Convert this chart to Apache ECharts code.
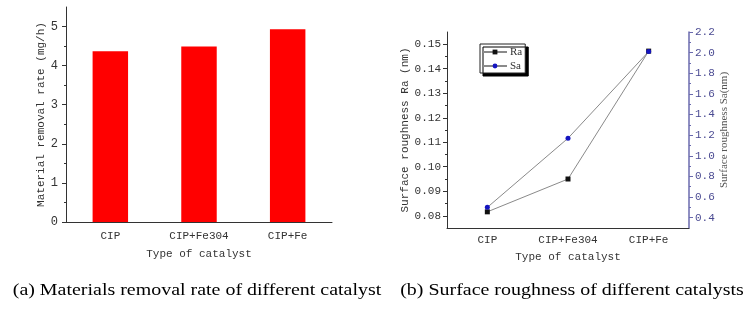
<!DOCTYPE html>
<html>
<head>
<meta charset="utf-8">
<script src="https://cdn.jsdelivr.net/npm/echarts@6/dist/echarts.min.js"></script>
<style>html,body{margin:0;padding:0;background:#fff}#c{width:756px;height:310px}</style>
</head>
<body>
<div id="c"></div>
<script>
// ---- data ----
const categories = ['CIP', 'CIP+Fe304', 'CIP+Fe'];
const removalRate = [4.37, 4.49, 4.93];
const raValues = [0.0816, 0.0950, 0.1472];
const saValues = [0.50, 1.17, 2.01];
const rateTicks = [0, 1, 2, 3, 4, 5];
const rateMinorTicks = [0.5, 1.5, 2.5, 3.5, 4.5];
const raTicks = [0.08, 0.09, 0.10, 0.11, 0.12, 0.13, 0.14, 0.15];
const raMinorTicks = [0.085, 0.095, 0.105, 0.115, 0.125, 0.135, 0.145];
const saTicks = [0.4, 0.6, 0.8, 1.0, 1.2, 1.4, 1.6, 1.8, 2.0, 2.2];
const saMinorTicks = [0.5, 0.7, 0.9, 1.1, 1.3, 1.5, 1.7, 1.9, 2.1];
const captionA = '(a) Materials removal rate of different catalyst';
const captionB = '(b) Surface roughness of different catalysts';

const mono = 'Liberation Mono';
const axisCol = '#333';
const blueAxis = '#6a6aae';

const chart = echarts.init(document.getElementById('c'), null, {renderer: 'canvas'});
chart.setOption({
  animation: false,
  backgroundColor: '#fff',
  grid: [
    {left: 66, top: 7, width: 266, height: 215},
    {left: 447, top: 32, width: 242, height: 196}
  ],
  legend: {
    data: ['Ra', 'Sa'],
    orient: 'vertical',
    left: 480, top: 44,
    padding: [2, 3, 1, 2],
    itemWidth: 24, itemHeight: 6, itemGap: 2,
    backgroundColor: '#fff',
    borderColor: '#222', borderWidth: 1,
    shadowColor: '#000', shadowBlur: 0, shadowOffsetX: 3, shadowOffsetY: 3,
    textStyle: {fontFamily: 'Liberation Serif', fontSize: 11, color: '#333', lineHeight: 12, padding: [0, 0, 0, -2]}
  },
  xAxis: [
    {
      type: 'category', gridIndex: 0, data: categories, position: 'bottom',
      axisLine: {lineStyle: {color: axisCol}},
      axisTick: {alignWithLabel: true, length: 4, lineStyle: {color: axisCol}},
      axisLabel: {fontFamily: mono, fontSize: 11, color: '#333', margin: 9},
      name: 'Type of catalyst', nameLocation: 'middle', nameGap: 27,
      nameTextStyle: {fontFamily: mono, fontSize: 11, color: '#333'}
    },
    {
      type: 'category', gridIndex: 0, data: categories, position: 'bottom',
      axisLine: {show: false},
      axisTick: {length: 2, lineStyle: {color: axisCol}},
      axisLabel: {show: false}
    },
    {
      type: 'category', gridIndex: 1, data: categories, position: 'bottom',
      axisLine: {lineStyle: {color: axisCol}},
      axisTick: {alignWithLabel: true, length: 4, lineStyle: {color: axisCol}},
      axisLabel: {fontFamily: mono, fontSize: 11, color: '#333', margin: 7},
      name: 'Type of catalyst', nameLocation: 'middle', nameGap: 24,
      nameTextStyle: {fontFamily: mono, fontSize: 11, color: '#333'}
    }
  ],
  yAxis: [
    {
      type: 'value', gridIndex: 0, min: 0, max: 5.5, position: 'left',
      axisLine: {show: true, lineStyle: {color: axisCol}},
      axisTick: {show: true, length: 4, customValues: rateTicks, lineStyle: {color: axisCol}},
      axisLabel: {customValues: rateTicks, fontFamily: mono, fontSize: 12, color: '#333', margin: 8},
      splitLine: {show: false},
      name: 'Material removal rate (mg/h)', nameLocation: 'middle', nameGap: 19, nameRotate: 90,
      nameTextStyle: {fontFamily: mono, fontSize: 11, color: '#333'}
    },
    {
      type: 'value', gridIndex: 0, min: 0, max: 5.5, position: 'left',
      axisLine: {show: false},
      axisTick: {show: true, length: 2, customValues: rateMinorTicks, lineStyle: {color: axisCol}},
      axisLabel: {show: false},
      splitLine: {show: false}
    },
    {
      type: 'value', gridIndex: 1, min: 0.075, max: 0.155, position: 'left',
      axisLine: {show: true, lineStyle: {color: axisCol}},
      axisTick: {show: true, length: 4, customValues: raTicks, lineStyle: {color: axisCol}},
      axisLabel: {customValues: raTicks, formatter: v => v.toFixed(2), fontFamily: mono, fontSize: 11, color: '#333', margin: 6},
      splitLine: {show: false},
      name: 'Surface roughness Ra (nm)', nameLocation: 'middle', nameGap: 34, nameRotate: 90,
      nameTextStyle: {fontFamily: mono, fontSize: 11, color: '#333'}
    },
    {
      type: 'value', gridIndex: 1, min: 0.3, max: 2.2, position: 'right',
      axisLine: {show: true, lineStyle: {color: blueAxis, width: 1.5}},
      axisTick: {show: true, length: 4, customValues: saTicks, lineStyle: {color: blueAxis}},
      axisLabel: {customValues: saTicks, formatter: v => v.toFixed(1), fontFamily: mono, fontSize: 11, color: '#4a4a92', margin: 6},
      splitLine: {show: false},
      name: 'Surface roughness Sa(nm)', nameLocation: 'middle', nameGap: 26, nameRotate: 90,
      nameTextStyle: {fontFamily: 'Liberation Serif', fontSize: 11, color: '#555'}
    },
    {
      type: 'value', gridIndex: 1, min: 0.075, max: 0.155, position: 'left',
      axisLine: {show: false},
      axisTick: {show: true, length: 2, customValues: raMinorTicks, lineStyle: {color: axisCol}},
      axisLabel: {show: false},
      splitLine: {show: false}
    },
    {
      type: 'value', gridIndex: 1, min: 0.3, max: 2.2, position: 'right',
      axisLine: {show: false},
      axisTick: {show: true, length: 2, customValues: saMinorTicks, lineStyle: {color: blueAxis}},
      axisLabel: {show: false},
      splitLine: {show: false}
    }
  ],
  series: [
    {
      type: 'bar', xAxisIndex: 0, yAxisIndex: 0, data: removalRate,
      barWidth: '40%', itemStyle: {color: '#ff0000'}
    },
    {
      name: 'Ra', type: 'line', xAxisIndex: 2, yAxisIndex: 2, data: raValues,
      symbol: 'rect', symbolSize: 5,
      lineStyle: {color: '#8a8a8a', width: 1},
      itemStyle: {color: '#111'}
    },
    {
      name: 'Sa', type: 'line', xAxisIndex: 2, yAxisIndex: 3, data: saValues,
      symbol: 'circle', symbolSize: 5,
      lineStyle: {color: '#8a8a8a', width: 1},
      itemStyle: {color: '#1515c0'}
    }
  ],
  graphic: [
    {type: 'text', x: 197, y: 290, scaleX: 1.14, style: {text: captionA, textAlign: 'center', textVerticalAlign: 'middle', font: '17.5px "Liberation Serif"', fill: '#000'}},
    {type: 'text', x: 572, y: 290, scaleX: 1.14, style: {text: captionB, textAlign: 'center', textVerticalAlign: 'middle', font: '17.5px "Liberation Serif"', fill: '#000'}}
  ]
});
</script>
</body>
</html>
